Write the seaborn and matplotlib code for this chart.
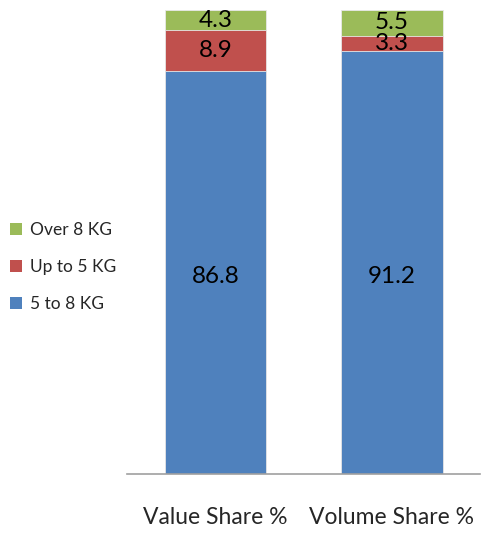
import matplotlib
matplotlib.use("Agg")
import matplotlib.pyplot as plt
from matplotlib.patches import Patch
import seaborn as sns
import pandas as pd

categories = ["Value Share %", "Volume Share %"]
five_to_eight = [86.8, 91.2]
up_to_five = [8.9, 3.3]
over_eight = [4.3, 5.5]

series_names = ["5 to 8 KG", "Up to 5 KG", "Over 8 KG"]
series_values = [five_to_eight, up_to_five, over_eight]
colors = ["#4F81BD", "#C0504D", "#9BBB59"]

sns.set_theme(style="white")
plt.rcParams["font.family"] = ["Lato", "DejaVu Sans"]

fig = plt.figure(figsize=(4.83, 5.36), dpi=100)
ax = fig.add_axes([0.263, 0.1157, 0.731, 0.8653])

# cumulative tops per layer, drawn from the tallest down so each segment shows
tops = []
running = [0.0] * len(categories)
for vals in series_values:
    running = [r + v for r, v in zip(running, vals)]
    tops.append(list(running))

for name, top, color in reversed(list(zip(series_names, tops, colors))):
    df = pd.DataFrame({"category": categories, "value": top})
    sns.barplot(data=df, x="category", y="value", color=color, width=0.575,
                saturation=1, edgecolor="#e8e8e8", linewidth=0.6, ax=ax)

# value labels: base-layer labels share one height, upper ones sit mid-segment
base_label_y = min(series_values[0]) / 2 - 0.9
for i in range(len(categories)):
    base = 0.0
    for k, vals in enumerate(series_values):
        v = vals[i]
        y = base_label_y if k == 0 else base + v / 2
        ax.text(i, y, f"{v:.1f}", ha="center", va="center",
                fontsize=17.5, color="black")
        base += v

ax.set_xlim(-0.5, 1.5)
ax.set_ylim(0, 100)
ax.set_xlabel("")
ax.set_ylabel("")
ax.set_yticks([])
for side in ["top", "right", "left"]:
    ax.spines[side].set_visible(False)
ax.spines["bottom"].set_color("#a0a0a0")
ax.spines["bottom"].set_linewidth(1.2)
ax.tick_params(axis="x", length=0, pad=24, labelsize=16.5)

handles = [Patch(facecolor=c, edgecolor="none") for c in reversed(colors)]
fig.legend(handles, list(reversed(series_names)), loc="center left",
           bbox_to_anchor=(-0.012, 0.502), frameon=False, fontsize=12.5,
           handlelength=0.7, handleheight=0.7, handletextpad=0.45,
           labelspacing=1.2)

fig.savefig("out.png", dpi=100)
